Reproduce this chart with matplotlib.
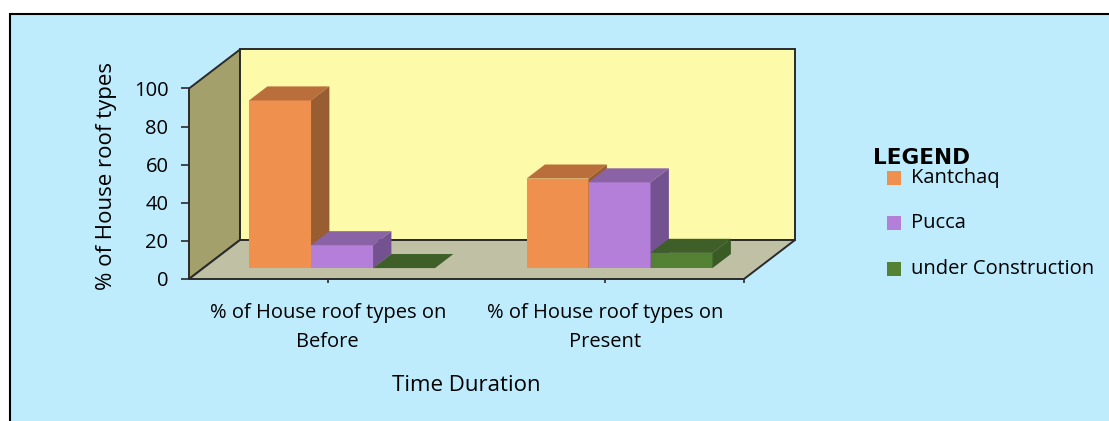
import matplotlib.pyplot as plt
from matplotlib.patches import Polygon, Rectangle

# data
categories = ["% of House roof types on\nBefore", "% of House roof types on\nPresent"]
series = ["Kantchaq", "Pucca", "under Construction"]
kantchaq = [88, 47]
pucca = [12, 45]
under_construction = [0, 8]
y_ticks = [0, 20, 40, 60, 80, 100]

values = [kantchaq, pucca, under_construction]

# colours: front face, top face, side face
front_col = ["#F0904F", "#B47FD9", "#548235"]
top_col = ["#B96E3C", "#8A62A6", "#3E6028"]
side_col = ["#985D31", "#745292", "#3A5A26"]
BG = "#BEECFD"
BACK = "#FDFBAA"
WALL = "#A4A06C"
FLOOR = "#C0C0A4"
EDGE = "#2a2a2a"

plt.rcParams["font.family"] = ["Open Sans", "DejaVu Sans"]

W, H = 1109, 421
fig = plt.figure(figsize=(W / 100, H / 100), dpi=100)
fig.patch.set_facecolor("white")

# chart area frame (runs off the right/bottom edges like the original)
fig.add_artist(Rectangle((10 / W, -0.05), 1.05, 1 - 14 / H + 0.05,
                         transform=fig.transFigure, facecolor=BG,
                         edgecolor="black", lw=1.5, zorder=0))

ax = fig.add_axes([189 / W, (H - 279) / H, 555 / W, 190.5 / H])
ncat = len(categories)
ymax = y_ticks[-1]
ax.set_xlim(0, ncat)
ax.set_ylim(0, ymax)
ax.patch.set_visible(False)
for s in ax.spines.values():
    s.set_visible(False)

# oblique depth: one unit of depth shifts right/up by these amounts
DX = 51 / 277.5
DY = 39 / 1.905


def proj(x, y, z):
    return (x + z * DX, y + z * DY)


def face(pts, color, z, **kw):
    ax.add_patch(Polygon([proj(*p) for p in pts], closed=True,
                         facecolor=color, clip_on=False, zorder=z, **kw))


# walls and floor
face([(0, 0, 0), (0, 0, 1), (0, ymax, 1), (0, ymax, 0)], WALL, 1,
     edgecolor=EDGE, lw=1.4)
face([(0, 0, 1), (ncat, 0, 1), (ncat, ymax, 1), (0, ymax, 1)], BACK, 1,
     edgecolor=EDGE, lw=1.4)
face([(0, 0, 0), (ncat, 0, 0), (ncat, 0, 1), (0, 0, 1)], FLOOR, 1.5,
     edgecolor=EDGE, lw=1.4)

# 3D bars, drawn left to right so later bars hide earlier side faces
w = 62 / 277.5
z0, z1 = 0.28, 0.64
nser = len(series)
for i in range(ncat):
    for j in range(nser):
        v = values[j][i]
        x0 = i + 0.5 - nser * w / 2 + j * w
        x1 = x0 + w
        zo = 3 + i * nser + j
        face([(x0, 0, z0), (x1, 0, z0), (x1, v, z0), (x0, v, z0)], front_col[j], zo, lw=0)
        face([(x0, v, z0), (x1, v, z0), (x1, v, z1), (x0, v, z1)], top_col[j], zo, lw=0)
        face([(x1, 0, z0), (x1, 0, z1), (x1, v, z1), (x1, v, z0)], side_col[j], zo, lw=0)

# axes ticks and labels
ax.set_yticks(y_ticks)
ax.tick_params(axis="y", direction="out", length=5.8, width=1.2, color=EDGE,
               pad=9, labelsize=14.5)
ax.set_xticks([i + 0.5 for i in range(ncat)])
ax.set_xticklabels(categories, fontsize=14.5, linespacing=1.55)
ax.set_xticks([ncat], minor=True)
ax.tick_params(axis="x", which="both", direction="out", length=3, width=1.2,
               color=EDGE, pad=14.5)

ax.set_ylabel("% of House roof types", fontsize=16)
ax.yaxis.label.set_va("center")
ax.yaxis.set_label_coords((107 - 189) / 555, (279 - 176) / 190.5)
ax.set_xlabel("Time Duration", fontsize=16)
ax.xaxis.set_label_coords(0.5, (279 - 385) / 190.5)
ax.xaxis.label.set_va("center")

# legend
fig.text(873 / W, 1 - 164 / H, "LEGEND", fontsize=15.5, fontweight="heavy",
         family="DejaVu Sans", va="baseline", ha="left")
for j, name in enumerate(series):
    yc = 178 + j * 45.3
    fig.add_artist(Rectangle((887 / W, 1 - (yc + 7) / H), 14 / W, 14 / H,
                             transform=fig.transFigure, facecolor=front_col[j],
                             edgecolor="none"))
    fig.text(911 / W, 1 - yc / H, name, fontsize=14.5, va="center", ha="left")

fig.savefig("out.png", dpi=100, facecolor=fig.get_facecolor())
